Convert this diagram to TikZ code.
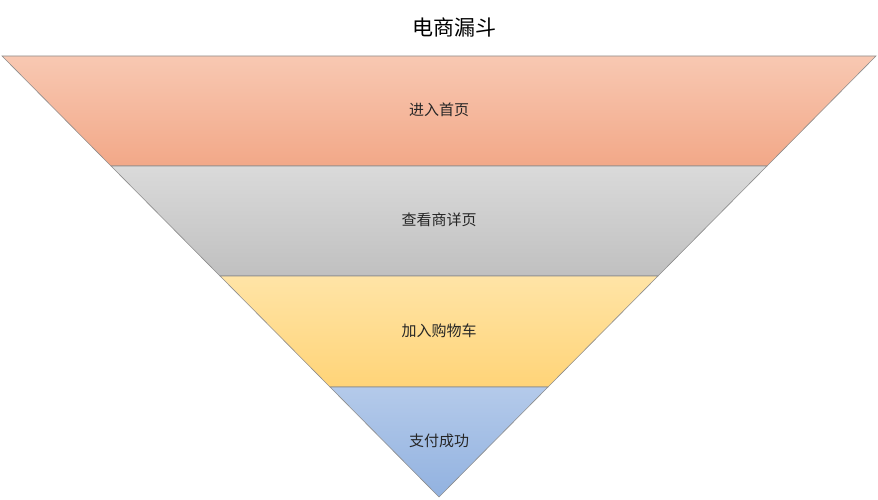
\documentclass[tikz,border=0pt]{standalone}
\usepackage{fontspec}
\newfontfamily\cjk{Noto Sans CJK SC}
\usetikzlibrary{positioning}
\definecolor{fnOrangeT}{RGB}{248, 200, 178}
\definecolor{fnOrangeB}{RGB}{242, 168, 136}
\definecolor{fnGrayT}{RGB}{218, 218, 218}
\definecolor{fnGrayB}{RGB}{192, 192, 192}
\definecolor{fnYellowT}{RGB}{255, 228, 166}
\definecolor{fnYellowB}{RGB}{255, 212, 120}
\definecolor{fnBlueT}{RGB}{180, 202, 234}
\definecolor{fnBlueB}{RGB}{146, 178, 224}
\definecolor{fnEdge}{RGB}{140, 140, 140}
\tikzset{
    band/.style={
        draw=fnEdge,
        line width=0.6pt
    },
    stage/.style={
        font=\cjk\fontsize{15}{18}\selectfont,
        text=black!85
    }
}
\begin{document}
\begin{tikzpicture}[x=1pt, y=-1pt]
  \useasboundingbox (0,0) rectangle (878,500);

  % Bands
  \draw[band, top color=fnOrangeT, bottom color=fnOrangeB] (2,56) -- (876,56) -- (767,166) -- (111,166) -- cycle;
  \draw[band, top color=fnGrayT, bottom color=fnGrayB] (111,166) -- (767,166) -- (658,276) -- (220,276) -- cycle;
  \draw[band, top color=fnYellowT, bottom color=fnYellowB] (220,276) -- (658,276) -- (548,387) -- (330,387) -- cycle;
  \draw[band, top color=fnBlueT, bottom color=fnBlueB] (330,387) -- (548,387) -- (439,497) -- cycle;

  % Labels
  \node[font=\cjk\fontsize{21}{24}\selectfont] (title) at (454,27) {电商漏斗};
  \node[stage] (home) at (439,110) {进入首页};
  \node[stage] (detail) at (439,220) {查看商详页};
  \node[stage] (cart) at (439,331) {加入购物车};
  \node[stage] (pay) at (439,441) {支付成功};
\end{tikzpicture}
\end{document}
